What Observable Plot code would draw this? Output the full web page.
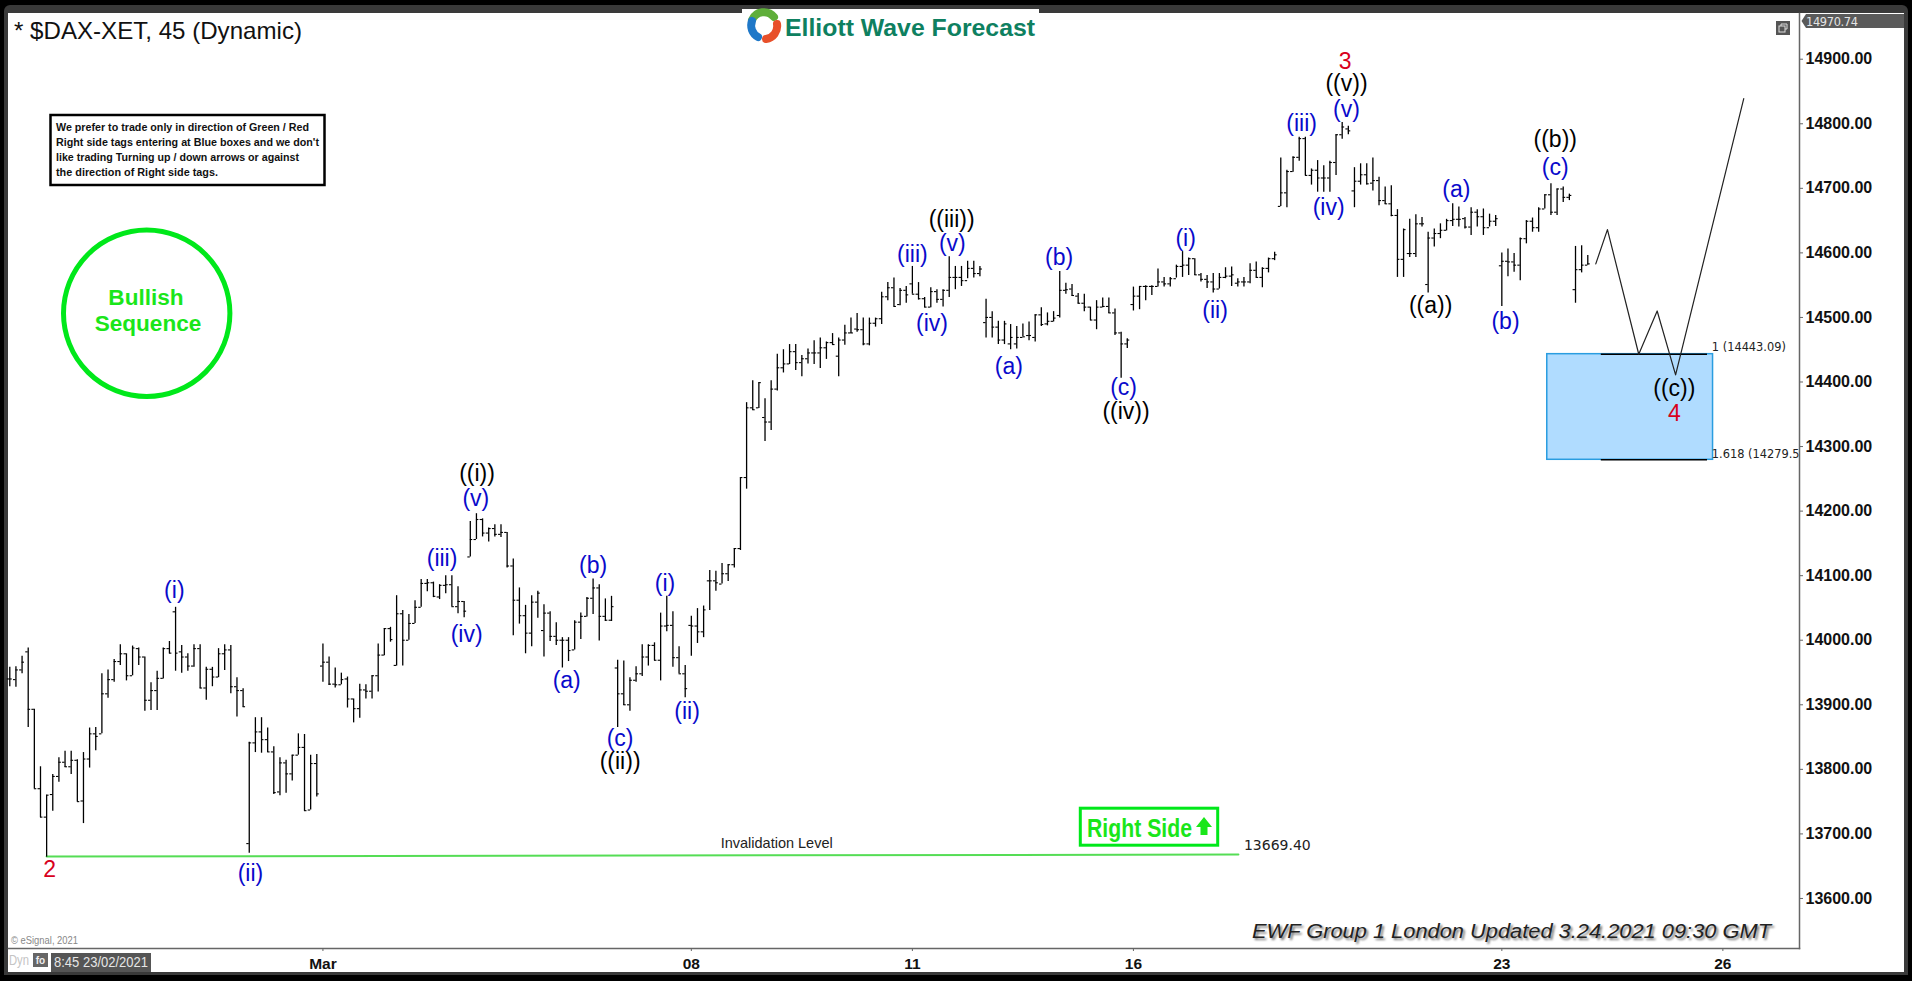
<!DOCTYPE html>
<html><head><meta charset="utf-8">
<script src="https://cdn.jsdelivr.net/npm/d3@7"></script>
<script src="https://cdn.jsdelivr.net/npm/@observablehq/plot@0.6"></script>
<style>
html,body{margin:0;padding:0;background:#000;overflow:hidden}
#page{position:relative;width:1912px;height:981px;background:#000;overflow:hidden;font-family:"Liberation Sans",Arial,sans-serif}
#band{position:absolute;left:4px;top:5px;width:1904px;height:970px;background:#3a3a3a;border-radius:6px 6px 0 0}
#paper{position:absolute;left:8px;top:13px;width:1896px;height:959px;background:#fff}
#chart{position:absolute;left:0;top:0}
#chart svg{display:block;background:transparent;overflow:visible}
#over{position:absolute;left:0;top:0;pointer-events:none}
</style></head><body>
<div id="page"><div id="band"></div><div id="paper"></div><div id="chart"></div><div id="over"></div></div>
<script>
const opens=[13940,13939,13954,13982,13893,13770,13726,13761,13789,13811,
13804,13814,13751,13816,13855,13855,13917,13939,13967,13979,
13945,13987,13974,13907,13922,13941,13987,14044,13982,13974,
13960,13987,13926,13955,13943,13979,13985,13928,13922,13685,
13841,13858,13846,13827,13765,13810,13793,13822,13834,13737,
13809,13960,13966,13932,13931,13940,13909,13894,13923,13921,
13945,13977,14018,13961,14041,14000,14026,14051,14088,14089,
14067,14085,14086,14052,14060,14129,14156,14187,14166,14173,
14164,14167,14115,14062,14038,14011,14059,14015,14042,14006,
14000,14000,13985,14028,14037,14065,14081,14037,14031,13957,
13917,13900,13938,13948,13974,13992,13969,14022,14023,13973,
13948,14023,14022,14013,14092,14092,14087,14103,14117,14142,
14252,14360,14360,14345,14338,14389,14422,14428,14447,14430,
14436,14445,14445,14453,14461,14440,14465,14476,14482,14481,
14459,14491,14498,14532,14546,14520,14542,14552,14536,14529,
14516,14540,14528,14542,14562,14562,14557,14576,14568,14492,
14500,14485,14465,14459,14459,14469,14472,14469,14504,14490,
14494,14503,14542,14544,14533,14522,14516,14496,14516,14517,
14507,14476,14459,14520,14533,14548,14548,14548,14555,14552,
14560,14579,14581,14591,14566,14559,14555,14544,14562,14564,
14553,14555,14555,14573,14562,14576,14591,14672,14693,14726,
14748,14777,14720,14728,14716,14716,14740,14783,14792,14696,
14711,14721,14708,14712,14681,14676,14658,14590,14599,14599,
14645,14551,14623,14630,14635,14650,14652,14653,14640,14663,
14656,14639,14649,14580,14587,14586,14581,14622,14649,14639,
14668,14690,14663,14699,14686,14543,14574,14581];
const highs=[13958,13959,13975,13988,13893,13804,13760,13792,13818,13828,
13828,13815,13826,13864,13865,13948,13954,13970,13993,13979,
13991,13988,13974,13934,13952,13988,13998,14051,13992,13979,
13993,13993,13958,13958,13987,13993,13992,13942,13925,13842,
13880,13880,13864,13835,13818,13814,13822,13855,13854,13822,
13823,13994,13974,13957,13949,13943,13909,13932,13931,13945,
13994,14018,14020,14069,14046,14040,14061,14094,14094,14090,
14086,14100,14100,14083,14060,14184,14196,14188,14174,14179,
14179,14167,14126,14081,14054,14069,14076,14055,14044,14027,
14004,14004,14030,14042,14066,14095,14086,14064,14068,13969,
13968,13942,13959,13993,13993,13996,14042,14068,14044,13990,
13961,14037,14049,14053,14108,14107,14119,14117,14142,14252,
14368,14402,14399,14374,14402,14443,14450,14458,14458,14441,
14451,14464,14468,14462,14475,14468,14488,14499,14506,14499,
14499,14499,14539,14554,14561,14545,14548,14579,14554,14531,
14546,14543,14543,14594,14579,14579,14587,14587,14579,14528,
14509,14494,14494,14489,14486,14490,14493,14504,14515,14507,
14509,14571,14553,14551,14537,14536,14516,14526,14530,14530,
14513,14477,14467,14547,14548,14549,14549,14575,14562,14562,
14581,14602,14592,14591,14568,14565,14568,14568,14577,14578,
14560,14562,14583,14586,14577,14592,14601,14747,14728,14749,
14779,14779,14730,14743,14735,14742,14783,14802,14796,14732,
14738,14738,14747,14717,14702,14704,14667,14637,14652,14659,
14655,14632,14637,14645,14652,14676,14671,14655,14670,14667,
14668,14660,14658,14600,14606,14599,14623,14650,14654,14670,
14690,14707,14699,14702,14691,14610,14611,14596];
const lows=[13928,13927,13948,13865,13770,13725,13664,13735,13780,13803,
13792,13750,13716,13802,13829,13855,13910,13935,13961,13937,
13945,13961,13890,13891,13891,13940,13979,13952,13949,13952,
13958,13925,13907,13928,13942,13953,13917,13881,13896,13670,
13826,13825,13826,13761,13759,13763,13782,13822,13735,13737,
13757,13935,13930,13926,13931,13895,13872,13879,13909,13909,
13920,13976,13997,13960,13960,14000,14026,14051,14075,14066,
14063,14072,14052,14041,14035,14129,14156,14160,14152,14160,
14159,14112,14007,14025,13979,13990,14034,13974,13998,13992,
13957,13967,13985,14001,14036,14040,13999,14029,14029,13865,
13899,13890,13935,13944,13960,13968,13937,14013,13958,13948,
13911,13975,13995,14004,14046,14076,14087,14091,14112,14139,
14234,14356,14359,14308,14325,14386,14414,14427,14418,14408,
14428,14427,14421,14435,14457,14408,14457,14475,14477,14456,
14456,14485,14489,14526,14516,14518,14522,14536,14527,14515,
14515,14522,14516,14531,14543,14548,14560,14561,14563,14468,
14468,14458,14458,14450,14451,14470,14464,14462,14486,14487,
14493,14499,14536,14533,14521,14509,14495,14481,14515,14506,
14472,14406,14452,14510,14512,14526,14534,14547,14547,14547,
14561,14562,14565,14565,14555,14545,14538,14544,14560,14548,
14547,14547,14552,14561,14546,14569,14588,14672,14670,14725,
14742,14720,14705,14694,14694,14694,14720,14776,14783,14670,
14705,14705,14696,14673,14675,14656,14562,14562,14593,14593,
14640,14538,14609,14622,14634,14641,14640,14637,14627,14640,
14627,14640,14641,14517,14563,14570,14557,14614,14632,14632,
14668,14658,14658,14678,14681,14522,14569,14581];
const closes=[13940,13954,13966,13893,13770,13726,13760,13789,13811,13804,
13814,13750,13816,13855,13851,13917,13939,13967,13979,13945,
13988,13974,13907,13922,13941,13987,13980,13980,13974,13960,
13987,13926,13955,13943,13979,13985,13928,13922,13897,13841,
13858,13846,13827,13764,13810,13793,13822,13834,13736,13809,
13762,13966,13932,13931,13939,13909,13894,13923,13921,13945,
13977,14018,14001,14041,14000,14026,14051,14088,14089,14068,
14085,14086,14052,14060,14045,14156,14187,14166,14173,14164,
14167,14115,14062,14038,14011,14059,14073,14042,14006,14000,
14000,13984,14028,14037,14065,14081,14037,14031,14052,13917,
13900,13938,13948,13974,13992,13969,14022,14023,13973,13948,
13925,14022,14013,14047,14092,14089,14103,14117,14142,14252,
14360,14357,14399,14338,14389,14422,14428,14447,14430,14436,
14445,14445,14453,14461,14458,14465,14476,14476,14481,14459,
14491,14498,14532,14546,14517,14542,14535,14536,14529,14516,
14540,14528,14542,14562,14562,14557,14576,14568,14575,14500,
14485,14465,14490,14469,14469,14470,14472,14504,14489,14494,
14499,14542,14543,14534,14522,14516,14496,14516,14517,14507,
14476,14459,14465,14533,14548,14548,14548,14555,14552,14560,
14579,14581,14591,14566,14559,14555,14544,14562,14564,14566,
14555,14555,14573,14562,14576,14591,14597,14693,14726,14748,
14777,14720,14728,14716,14716,14740,14783,14795,14789,14711,
14721,14707,14712,14681,14676,14658,14590,14636,14599,14645,
14645,14623,14630,14635,14650,14652,14652,14640,14663,14656,
14639,14649,14653,14587,14586,14581,14622,14649,14639,14668,
14690,14663,14699,14686,14689,14574,14581,14583];

const priceTicks=[13600,13700,13800,13900,14000,14100,14200,14300,14400,14500,14600,14700,14800,14900];
const dateTickBars=[51,111,147,183,243,279];
const dateTickLabels=["Mar","08","11","16","23","26"];

const blueWaveLabels=[["(i)",26.8,14077],["(ii)",39.2,13639],["(v)",75.9,14220],["(iii)",70.4,14126],["(iv)",74.4,14009],["(b)",95,14116],["(a)",90.7,13938],["(i)",106.7,14088],["(c)",99.4,13848],["(ii)",110.3,13890],["(v)",153.5,14614],["(iii)",147,14598],["(iv)",150.2,14491],["(a)",162.7,14424],["(b)",170.9,14593],["(c)",181.4,14392],["(i)",191.5,14622],["(ii)",196.3,14511],["(v)",217.7,14822],["(iii)",210.4,14800],["(iv)",214.8,14670],["(a)",235.6,14698],["(b)",243.6,14494],["(c)",251.7,14732]];
const blackWaveLabels=[["((i))",76.1,14258],["((ii))",99.4,13812],["((iii))",153.4,14652],["((iv))",181.8,14354],["((v))",217.7,14862],["((a))",231.4,14518],["((b))",251.7,14776],["((c))",271.1,14390]];
const redWaveLabels=[["2",6.5,13645],["3",217.5,14897],["4",271.1,14351]];

const projectionBars=[258.3,260.2,265.3,268.3,271.3,282.4];
const projectionPrices=[14583,14636,14443,14510,14411,14839];
const fibLevels=[14443.09,14279.5];
const fibLabels=[["1 (14443.09)",277.2,14454],["1.618 (14279.5",277.2,14288.5]];
const invalidationLevel=13669.40;

const bars=opens.map((o,i)=>({i,o,h:highs[i],l:lows[i],c:closes[i]}));
const proj=projectionBars.map((x,i)=>({x,y:projectionPrices[i]}));
const tup=a=>a.map(([t,x,y])=>({t,x,y}));
const waveFont={fontFamily:"Liberation Sans, Arial, sans-serif",fontSize:23,textAnchor:"middle",lineAnchor:"middle"};

const plot=Plot.plot({
  width:1912,height:981,marginLeft:8,marginRight:113,marginTop:13,marginBottom:33,
  style:{background:"transparent",overflow:"visible"},
  x:{type:"linear",domain:[-0.21,291.48],range:[8,1799]},
  y:{type:"linear",domain:[13522.5,14970.8],range:[948,13]},
  marks:[
    Plot.rect([{a:250.4,b:277.4,lo:fibLevels[1],hi:fibLevels[0]}],{x1:"a",x2:"b",y1:"lo",y2:"hi",fill:"#b0dcff",stroke:"#2a9de0",strokeWidth:1.5}),
    Plot.ruleY(fibLevels,{x1:259.2,x2:276.5,stroke:"#000",strokeWidth:1.4}),
    Plot.line([{x:6,y:13665},{x:200.1,y:13668}],{x:"x",y:"y",stroke:"#55dd55",strokeWidth:2}),
    Plot.ruleX(bars,{x:"i",y1:"l",y2:"h",stroke:"#000",strokeWidth:1.3}),
    Plot.ruleY(bars,{y:"o",x1:d=>d.i-0.4,x2:"i",stroke:"#000",strokeWidth:1.1}),
    Plot.ruleY(bars,{y:"c",x1:"i",x2:d=>d.i+0.4,stroke:"#000",strokeWidth:1.1}),
    Plot.line(proj,{x:"x",y:"y",stroke:"#222",strokeWidth:1.2}),
    Plot.text(tup(blueWaveLabels),{x:"x",y:"y",text:"t",fill:"#0a0acb",...waveFont}),
    Plot.text(tup(blackWaveLabels),{x:"x",y:"y",text:"t",fill:"#000",...waveFont}),
    Plot.text(tup(redWaveLabels),{x:"x",y:"y",text:"t",fill:"#d8001c",...waveFont}),
    Plot.text(tup(fibLabels),{x:"x",y:"y",text:"t",fill:"#222",fontFamily:"DejaVu Sans",fontSize:11.4,textAnchor:"start",clip:true}),
    Plot.text([{t:"Invalidation Level",x:124.9,y:13685}],{x:"x",y:"y",text:"t",fill:"#222",fontFamily:"Liberation Sans",fontSize:14.5}),
    Plot.text([{t:"13669.40",x:201,y:13682}],{x:"x",y:"y",text:"t",fill:"#222",fontFamily:"DejaVu Sans",fontSize:14,textAnchor:"start"}),
    Plot.frame({anchor:"right",stroke:"#666",strokeWidth:1.5}),
    Plot.frame({anchor:"bottom",stroke:"#666",strokeWidth:1.5}),
    Plot.axisY(priceTicks,{anchor:"right",label:null,tickSize:3,tickPadding:3,tickFormat:d3.format(".2f"),fontFamily:"Liberation Sans",fontSize:16,fontWeight:"bold",fill:"#111",stroke:"#666"}),
    Plot.axisX(dateTickBars,{anchor:"bottom",label:null,tickSize:3,tickPadding:6,tickFormat:d=>dateTickLabels[dateTickBars.indexOf(d)],fontFamily:"Liberation Sans",fontSize:15.5,fontWeight:"bold",fill:"#111",stroke:"#666"})
  ]
});
document.getElementById("chart").appendChild(plot);

document.getElementById("over").innerHTML=`
<svg width="1912" height="981" xmlns="http://www.w3.org/2000/svg" font-family="Liberation Sans, Arial, sans-serif">
<defs><filter id="sh" x="-5%" y="-30%" width="110%" height="170%"><feGaussianBlur stdDeviation="1"/></filter></defs>
<text x="14" y="39" font-size="24" fill="#111" textLength="288" lengthAdjust="spacingAndGlyphs">* $DAX-XET, 45 (Dynamic)</text>

<rect x="742" y="9" width="297" height="36" fill="#fff"/>
<g fill="none" stroke-width="8" stroke-linecap="round">
<path d="M752 20 A13 13 0 0 1 774 17" stroke="#5fae3a"/>
<path d="M777 24 A13 13 0 0 1 766 39" stroke="#e8502a"/>
<path d="M758 37 A13 13 0 0 1 752 21" stroke="#1f78c8"/>
</g>
<text x="785" y="36" font-size="24.7" font-weight="bold" fill="#0e8060" textLength="250" lengthAdjust="spacingAndGlyphs">Elliott Wave Forecast</text>

<rect x="50.5" y="115" width="274" height="70" fill="#fff" stroke="#000" stroke-width="2.5"/>
<g font-size="11" font-weight="bold" fill="#111">
<text x="56" y="131" textLength="253" lengthAdjust="spacingAndGlyphs">We prefer to trade only in direction of Green / Red</text>
<text x="56" y="146" textLength="263" lengthAdjust="spacingAndGlyphs">Right side tags entering at Blue boxes and we don't</text>
<text x="56" y="161" textLength="243" lengthAdjust="spacingAndGlyphs">like trading Turning up / down arrows or against</text>
<text x="56" y="176" textLength="162" lengthAdjust="spacingAndGlyphs">the direction of Right side tags.</text>
</g>

<circle cx="146.7" cy="313.3" r="83.2" fill="none" stroke="#00e81a" stroke-width="5"/>
<g font-size="22.6" font-weight="bold" fill="#1ae61a" text-anchor="middle">
<text x="146" y="305">Bullish</text>
<text x="148" y="331">Sequence</text>
</g>

<rect x="1080.3" y="808.2" width="137.4" height="37" fill="#fff" stroke="#00e81a" stroke-width="3"/>
<text x="1087" y="837" font-size="26" font-weight="bold" fill="#1ae61a" textLength="105" lengthAdjust="spacingAndGlyphs">Right Side</text>
<path d="M1204 817 L1212 827 L1207.5 827 L1207.5 835 L1200.5 835 L1200.5 827 L1196 827 Z" fill="#1ae61a"/>

<rect x="1776" y="21" width="14" height="14" fill="#555"/>
<rect x="1779" y="26" width="6" height="6" fill="none" stroke="#ddd" stroke-width="1"/>
<path d="M1781 26 V24 H1787 V29 H1785" fill="none" stroke="#ddd" stroke-width="1"/>

<path d="M1801.5 21 L1806 14 H1904 V28 H1806 Z" fill="#5a5a5a"/>
<text x="1806" y="25.5" font-size="11.4" font-family="DejaVu Sans" fill="#e4e4e4" textLength="52">14970.74</text>

<text x="11" y="944" font-size="10.5" fill="#888" textLength="67" lengthAdjust="spacingAndGlyphs">© eSignal, 2021</text>
<text x="9" y="965" font-size="14" fill="#c4c4c4" textLength="20" lengthAdjust="spacingAndGlyphs">Dyn</text>
<rect x="33" y="953" width="15" height="14" fill="#666"/>
<text x="40.5" y="964" font-size="10" font-weight="bold" fill="#eee" text-anchor="middle">fo</text>
<rect x="51" y="953" width="100" height="19" fill="#555"/>
<text x="54" y="967" font-size="14" fill="#e6e6e6" textLength="94" lengthAdjust="spacingAndGlyphs">8:45 23/02/2021</text>

<g font-size="20" font-style="italic">
<text x="1254" y="940" fill="#777" filter="url(#sh)" textLength="519" lengthAdjust="spacingAndGlyphs">EWF Group 1 London Updated 3.24.2021 09:30 GMT</text>
<text x="1252" y="938" fill="#222" textLength="519" lengthAdjust="spacingAndGlyphs">EWF Group 1 London Updated 3.24.2021 09:30 GMT</text>
</g>
</svg>`;
</script>
</body></html>
